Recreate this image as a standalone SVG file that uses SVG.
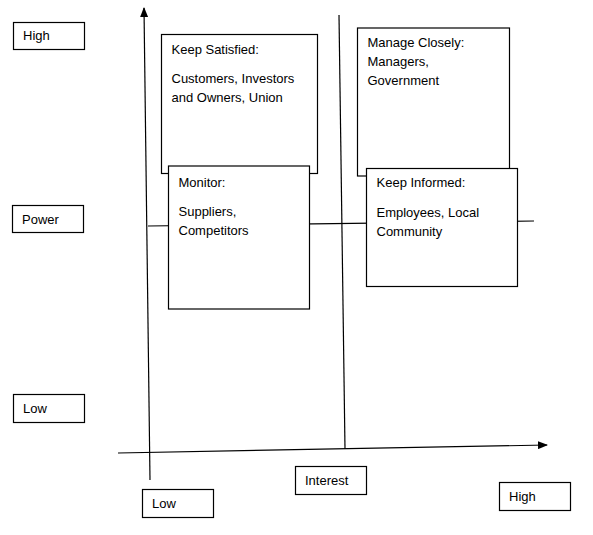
<svg xmlns="http://www.w3.org/2000/svg" width="593" height="535" viewBox="0 0 593 535">
<style>
.box{fill:#fff;stroke:#000;stroke-width:1.2}
.ln{fill:none;stroke:#000;stroke-width:1.2}
text{font-family:"Liberation Sans",Arial,sans-serif;font-size:13px;fill:#000}
</style>
<defs>
<marker id="arr" markerWidth="10" markerHeight="8" refX="9" refY="4" orient="auto" markerUnits="userSpaceOnUse">
<path d="M0,0 L10,4 L0,8 Z" fill="#000"/>
</marker>
</defs>
<rect width="593" height="535" fill="#fff"/>
<g id="connectors">
<line class="ln" x1="150" y1="480" x2="144" y2="8" marker-end="url(#arr)"/>
<line class="ln" x1="118" y1="453" x2="547" y2="445" marker-end="url(#arr)"/>
<line class="ln" x1="339" y1="15" x2="345" y2="449"/>
<line class="ln" x1="148" y1="226" x2="534" y2="221"/>
</g>
<g id="label-high-y"><rect class="box" x="13.5" y="22.5" width="71" height="27"/><text x="23" y="40">High</text></g>
<g id="label-power"><rect class="box" x="12.5" y="205.5" width="71" height="27"/><text x="22" y="224">Power</text></g>
<g id="label-low-y"><rect class="box" x="13.5" y="394.5" width="71" height="28"/><text x="23" y="413">Low</text></g>
<g id="label-low-x"><rect class="box" x="142.5" y="489.5" width="71" height="28"/><text x="152" y="508">Low</text></g>
<g id="label-interest"><rect class="box" x="295.5" y="466.5" width="71" height="28"/><text x="305" y="485">Interest</text></g>
<g id="label-high-x"><rect class="box" x="499.5" y="482.5" width="71" height="28"/><text x="509" y="501">High</text></g>
<g id="keep-satisfied"><rect class="box" x="161.5" y="34.5" width="156" height="139"/>
<text x="171.5" y="54">Keep Satisfied:</text>
<text x="171.5" y="83">Customers, Investors</text>
<text x="171.5" y="102">and Owners, Union</text></g>
<g id="manage-closely"><rect class="box" x="357.5" y="28" width="152" height="148"/>
<text x="367.5" y="47">Manage Closely:</text>
<text x="367.5" y="66">Managers,</text>
<text x="367.5" y="85">Government</text></g>
<g id="monitor"><rect class="box" x="168.5" y="166" width="141" height="143"/>
<text x="178.5" y="187">Monitor:</text>
<text x="178.5" y="216">Suppliers,</text>
<text x="178.5" y="235">Competitors</text></g>
<g id="keep-informed"><rect class="box" x="366.5" y="168.5" width="151" height="118"/>
<text x="376.5" y="187">Keep Informed:</text>
<text x="376.5" y="217">Employees, Local</text>
<text x="376.5" y="236">Community</text></g>
</svg>
